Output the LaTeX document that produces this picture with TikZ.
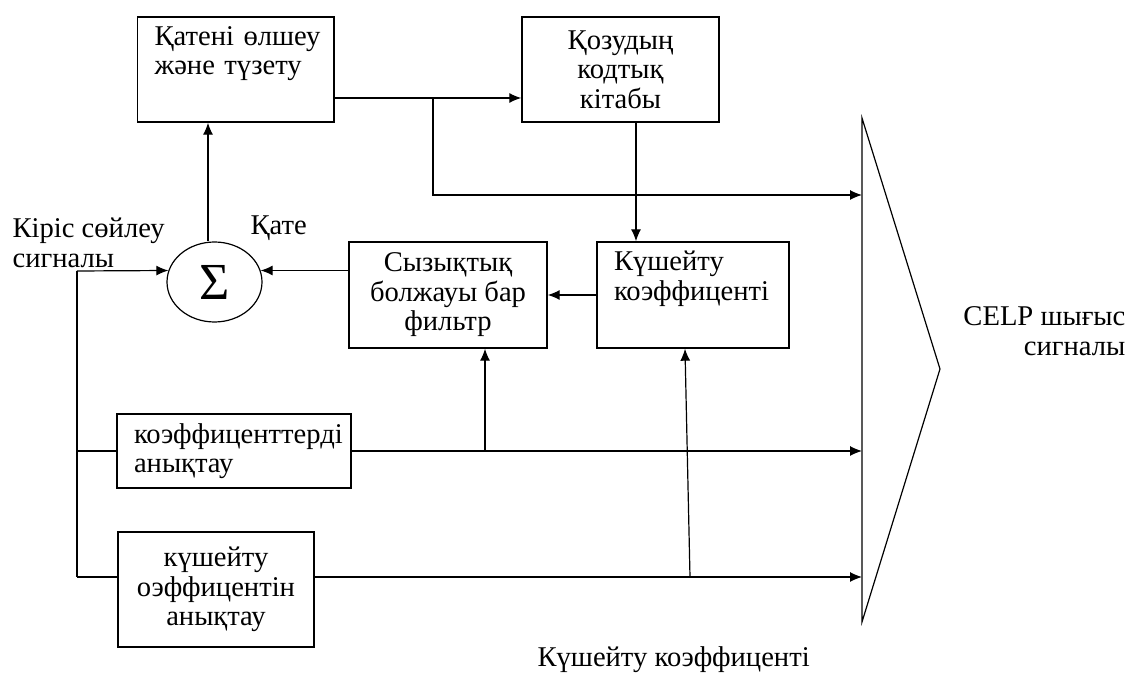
\documentclass[tikz,border=0pt]{standalone}
\usepackage{fontspec}
\setmainfont{Liberation Serif}
\usetikzlibrary{arrows.meta,shapes.geometric}

\tikzset{
  blk/.style={draw, line width=0.7pt, minimum height=52.5pt, inner sep=0pt, align=center},
  blkl/.style={blk, align=left, inner xsep=8.5pt},
  lbl/.style={inner sep=0pt},
  arr/.style={-{Latex[length=6pt,width=5pt]}}
}

\begin{document}
\begin{tikzpicture}[x=0.5pt, y=-0.5pt, line width=0.6pt, font=\fontsize{14.3}{14.75}\selectfont]
\useasboundingbox (0,0) rectangle (1137,673);

% blocks
\node[blkl, text width=81.25pt] (err) at (235.75,69.5) {Қатені~өлшеу\\ және~түзету\\ \strut};
\node[blk, minimum width=98.5pt] (cb) at (620.5,69.5) {Қозудың\\ кодтық\\ кітабы};
\node[blkl, text width=79pt, minimum height=53pt] (gain) at (693,295) {Күшейту\\ коэффиценті\\ \strut};
\node[blk, minimum width=99pt, minimum height=53pt] (lpf) at (448,295) {Сызықтық\\ болжауы бар\\ фильтр};
\node[blkl, text width=100pt, minimum height=37pt] (lpc) at (234,451) {коэффиценттерді\\ анықтау};
\node[blk, minimum width=98pt, minimum height=57.5pt] (gcalc) at (216,589.5) {күшейту\\ оэффицентін\\ анықтау};
\node[draw, ellipse, minimum width=47.5pt, minimum height=40pt, inner sep=0pt,
      font=\fontsize{26}{26}\selectfont] (sum) at (214.5,282) {Σ};

% output stage
\draw (862,118) -- (940,369) -- (862,622) -- cycle;
\coordinate (o1) at (862,195);
\coordinate (o2) at (862,451);
\coordinate (o3) at (862,577);

% texts
\node[lbl, anchor=west, align=left] (inlbl) at (12,243) {Кіріс сөйлеу\\сигналы};
\node[lbl, anchor=base west] (errlbl) at (250,235) {Қате};
\node[lbl, anchor=east, align=right] (outlbl) at (1126,331) {CELP шығыс\\сигналы};
\node[lbl, anchor=base west] (gainlbl) at (537,667) {Күшейту коэффиценті};

% connections
\coordinate (inp) at (77,271);
\coordinate (bot) at (77,577);
\coordinate (jA) at (433,98);
\coordinate (j2) at (485,451);
\coordinate (jG) at (690,577);

\draw[arr] ([xshift=-3.25pt]sum.north) -- ([xshift=-3.25pt]sum.north |- err.south);
\draw[arr] (err.east |- jA) -- (cb.west |- jA);
\draw[arr] (jA) |- (o1);
\draw[arr] ([xshift=7.75pt]cb.south) -- ([xshift=7.75pt]cb.south |- gain.north);
\draw[arr] (gain.west) -- (lpf.east);
\draw[arr] (lpf.west |- sum.14) -- (sum.14);
\draw[arr] (inp) -- (sum.166);
\draw (inp) -- (bot);
\draw (lpc.west -| inp) -- (lpc.west);
\draw[arr] (lpc.east) -- (o2);
\draw[arr] (j2) -- (j2 |- lpf.south);
\draw (bot) -- (gcalc.west |- bot);
\draw[arr] (gcalc.east |- bot) -- (o3);
\draw[arr] (jG) -- ([xshift=-4pt]gain.south);

\end{tikzpicture}
\end{document}
